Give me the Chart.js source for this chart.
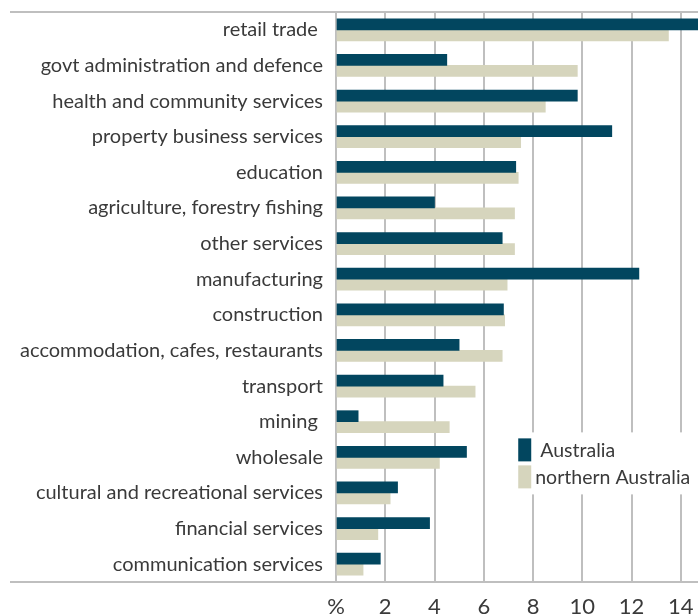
<!DOCTYPE html>
<html>
<head>
<meta charset="utf-8">
<script src="https://cdn.jsdelivr.net/npm/chart.js@4/dist/chart.umd.min.js"></script>
<style>
  html, body { margin: 0; padding: 0; background: #fff; }
  #wrap { width: 698px; height: 616px; }
</style>
</head>
<body>
<div id="wrap"><canvas id="c" width="698" height="616"></canvas></div>
<script>
const categories = [
  'retail trade ',
  'govt administration and defence',
  'health and community services',
  'property business services',
  'education',
  'agriculture, forestry fishing',
  'other services',
  'manufacturing',
  'construction',
  'accommodation, cafes, restaurants',
  'transport',
  'mining ',
  'wholesale',
  'cultural and recreational services',
  'financial services',
  'communication services'
];
const australia = [14.8, 4.5, 9.8, 11.2, 7.3, 4.0, 6.75, 12.3, 6.8, 5.0, 4.35, 0.9, 5.3, 2.5, 3.8, 1.8];
const northernAustralia = [13.5, 9.8, 8.5, 7.5, 7.4, 7.25, 7.25, 6.95, 6.85, 6.75, 5.65, 4.6, 4.2, 2.2, 1.7, 1.1];
const tickValues = [0, 2, 4, 6, 8, 10, 12, 14];
const tickLabels = ['%', '2', '4', '6', '8', '10', '12', '14'];
const seriesNames = ['Australia', 'northern Australia'];

const FONT = 'Lato, "Open Sans", sans-serif';
const TEXT = '#3a3a3a';
const GRID = '#bfbfbf';

const framePlugin = {
  id: 'frame',
  beforeDatasetsDraw(chart) {
    const ctx = chart.ctx, a = chart.chartArea;
    ctx.save();
    ctx.strokeStyle = GRID;
    ctx.lineWidth = 2;
    ctx.beginPath();
    ctx.moveTo(10, a.top); ctx.lineTo(chart.width, a.top);
    ctx.moveTo(10, a.bottom); ctx.lineTo(chart.width, a.bottom);
    ctx.stroke();
    ctx.restore();
  },
  afterDatasetsDraw(chart) {
    const ctx = chart.ctx;
    const x = chart.scales.x, y = chart.scales.y;
    // legend placed in the lower right of the plot
    const bx = x.getPixelForValue(7.4), by = y.getPixelForValue(11.3);
    ctx.save();
    ctx.fillStyle = '#fff';
    ctx.fillRect(bx - 6, by, 184, 62);
    chart.data.datasets.forEach((ds, i) => {
      const top = by + 6 + i * 27;
      ctx.fillStyle = ds.backgroundColor;
      ctx.fillRect(bx, top, 13, 23);
      ctx.fillStyle = TEXT;
      ctx.font = '19.5px ' + FONT;
      ctx.textBaseline = 'alphabetic';
      ctx.textAlign = 'left';
      ctx.fillText(ds.label, bx + (i === 0 ? 22 : 17), top + 19);
    });
    ctx.restore();
  }
};

new Chart(document.getElementById('c'), {
  type: 'bar',
  data: {
    labels: categories,
    datasets: [
      { label: seriesNames[0], data: australia, backgroundColor: '#02465f', barThickness: 11 },
      { label: seriesNames[1], data: northernAustralia, backgroundColor: '#d6d5bd', barThickness: 11 }
    ]
  },
  options: {
    indexAxis: 'y',
    responsive: false,
    animation: false,
    layout: { padding: { top: 12, left: 0, right: 0, bottom: 0 } },
    plugins: { legend: { display: false }, tooltip: { enabled: false } },
    scales: {
      x: {
        min: 0, max: 14.7,
        afterBuildTicks: axis => { axis.ticks = tickValues.map(v => ({ value: v })); },
        afterFit: axis => { axis.height = 34; axis.paddingLeft = 0; axis.paddingRight = 0; },
        ticks: {
          padding: 12,
          color: TEXT,
          font: { family: FONT, size: 22 },
          maxRotation: 0,
          autoSkip: false,
          callback: (v, i) => tickLabels[i]
        },
        grid: { color: GRID, lineWidth: 2, drawTicks: false },
        border: { display: false }
      },
      y: {
        afterFit: axis => { axis.width = 336; axis.paddingTop = 0; axis.paddingBottom = 0; },
        ticks: {
          padding: 13,
          color: TEXT,
          font: { family: FONT, size: 20 }
        },
        grid: { display: false, drawTicks: false },
        border: { display: true, color: GRID, width: 2 }
      }
    }
  },
  plugins: [framePlugin]
});
</script>
</body>
</html>
